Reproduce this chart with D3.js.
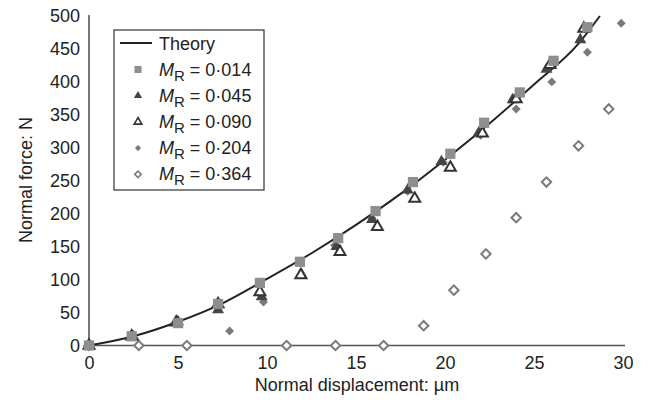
<!DOCTYPE html>
<html>
<head>
<meta charset="utf-8">
<script src="https://cdn.jsdelivr.net/npm/d3@7"></script>
<style>
  body { margin: 0; background: #fff; }
  text { font-family: "Liberation Sans", Arial, sans-serif; fill: #222; }
</style>
</head>
<body>
<div id="chart"></div>
<script>
// theory curve
const theory = [[0, 0], [2.5, 14], [5, 36], [7.5, 64], [10, 101], [12.5, 140], [15, 183],
  [17.5, 230], [20, 282], [22.5, 337], [25, 396], [27.5, 458], [28.7, 500]];

const mr014 = [[0, 0], [2.4, 14], [5.0, 34], [7.25, 63], [9.6, 95], [11.85, 127], [14.0, 163],
  [16.1, 204], [18.2, 248], [20.3, 291], [22.2, 338], [24.2, 384], [26.1, 432], [28.0, 483]];
const mr045 = [[0, 0], [2.5, 13], [5.0, 36], [7.25, 54], [9.7, 74], [11.95, 107], [13.9, 150],
  [15.9, 191], [17.9, 236], [19.8, 279], [21.9, 323], [23.8, 373], [25.7, 419], [27.6, 464]];
const mr090 = [[0, 0], [2.4, 14], [4.9, 35], [7.25, 63], [9.6, 81], [11.9, 107], [14.1, 142],
  [16.2, 180], [18.3, 223], [20.3, 270], [22.1, 322], [24.0, 374], [25.9, 426], [27.8, 481]];
const mr204 = [[0, 0], [7.9, 22], [9.8, 66], [13.8, 152], [15.9, 193], [17.9, 234], [19.9, 278],
  [22.0, 319], [24.0, 359], [26.0, 400], [28.0, 445], [29.9, 489]];
const mr364 = [[0, 0], [2.8, 0], [5.5, 0], [11.1, 0], [13.85, 0], [16.55, 0], [18.8, 30],
  [20.5, 84], [22.3, 139], [24.0, 194], [25.7, 248], [27.5, 303], [29.2, 359]];

const xTicks = [0, 5, 10, 15, 20, 25, 30];
const yTicks = [0, 50, 100, 150, 200, 250, 300, 350, 400, 450, 500];
const legendLabels = ["0·014", "0·045", "0·090", "0·204", "0·364"];

const width = 648, height = 410;
const margin = { top: 16, right: 23, bottom: 64, left: 89 };

const svg = d3.select("#chart").append("svg")
  .attr("width", width)
  .attr("height", height);

const x = d3.scaleLinear().domain([0, 30]).range([margin.left, 623]);
const y = d3.scaleLinear().domain([0, 500]).range([345.5, margin.top]);

// axes: plain lines, no tick marks
const xAxis = svg.append("g")
  .attr("transform", `translate(0,${y(0)})`)
  .call(d3.axisBottom(x).tickValues(xTicks).tickSize(0).tickPadding(11));
xAxis.select(".domain").attr("stroke", "#555").attr("stroke-width", 1.6)
  .attr("d", `M${x(0)},0H${x(30) + 2}`);
xAxis.selectAll("text").style("font-size", "18px").attr("fill", "#222");

const yAxis = svg.append("g")
  .attr("transform", `translate(${x(0)},0)`)
  .call(d3.axisLeft(y).tickValues(yTicks).tickSize(0).tickPadding(9));
yAxis.select(".domain").attr("stroke", "#555").attr("stroke-width", 1.6)
  .attr("d", `M0,${y(0)}V${y(500) - 1}`);
yAxis.selectAll("text").style("font-size", "18px").attr("fill", "#222");

// theory line
svg.append("path")
  .datum(theory)
  .attr("fill", "none")
  .attr("stroke", "#222")
  .attr("stroke-width", 2)
  .attr("d", d3.line().x(d => x(d[0])).y(d => y(d[1])).curve(d3.curveMonotoneX));

// marker styles (diamonds are squares turned 45 degrees)
const styles = [
  { data: mr014, type: d3.symbolSquare, size: 105, rot: 0, fill: "#8e8e8e", stroke: "none" },
  { data: mr045, type: d3.symbolTriangle, size: 62, rot: 0, fill: "#444", stroke: "none" },
  { data: mr090, type: d3.symbolTriangle, size: 52, rot: 0, fill: "#fff", stroke: "#333" },
  { data: mr204, type: d3.symbolSquare, size: 40, rot: 45, fill: "#7a7a7a", stroke: "none" },
  { data: mr364, type: d3.symbolSquare, size: 44, rot: 45, fill: "#fff", stroke: "#7a7a7a" }
];

// draw so that the order matches the reference (open diamonds first, squares last)
const drawOrder = [4, 3, 1, 2, 0];
drawOrder.forEach(i => {
  const s = styles[i];
  svg.append("g").selectAll("path")
    .data(s.data)
    .join("path")
    .attr("transform", d => `translate(${x(d[0])},${y(d[1])}) rotate(${s.rot})`)
    .attr("d", d3.symbol().type(s.type).size(s.size))
    .attr("fill", s.fill)
    .attr("stroke", s.stroke)
    .attr("stroke-width", 2);
});

// legend
const legend = svg.append("g").attr("transform", "translate(114,30)");
legend.append("rect")
  .attr("width", 150).attr("height", 160)
  .attr("fill", "#fff").attr("stroke", "#333").attr("stroke-width", 1.2);

legend.append("line")
  .attr("x1", 6).attr("x2", 38).attr("y1", 13).attr("y2", 13)
  .attr("stroke", "#222").attr("stroke-width", 2);
legend.append("text")
  .attr("x", 45).attr("y", 19.5)
  .style("font-size", "18px")
  .text("Theory");

styles.forEach((s, i) => {
  const ly = 39.5 + i * 26.2;
  legend.append("path")
    .attr("transform", `translate(24,${ly}) rotate(${s.rot})`)
    .attr("d", d3.symbol().type(s.type).size(s.size * 0.48))
    .attr("fill", s.fill)
    .attr("stroke", s.stroke)
    .attr("stroke-width", 1.6);
  const t = legend.append("text")
    .attr("x", 45).attr("y", ly + 6)
    .style("font-size", "18px");
  t.append("tspan").attr("font-style", "italic").text("M");
  t.append("tspan").attr("dy", 5).style("font-size", "15px").text("R");
  t.append("tspan").attr("dy", -5).text(" = " + legendLabels[i]);
});

// axis titles
svg.append("text")
  .attr("x", 357).attr("y", 391)
  .attr("text-anchor", "middle")
  .style("font-size", "18px")
  .text("Normal displacement: µm");

svg.append("text")
  .attr("transform", "rotate(-90)")
  .attr("x", -180).attr("y", 32)
  .attr("text-anchor", "middle")
  .style("font-size", "18px")
  .text("Normal force: N");
</script>
</body>
</html>
